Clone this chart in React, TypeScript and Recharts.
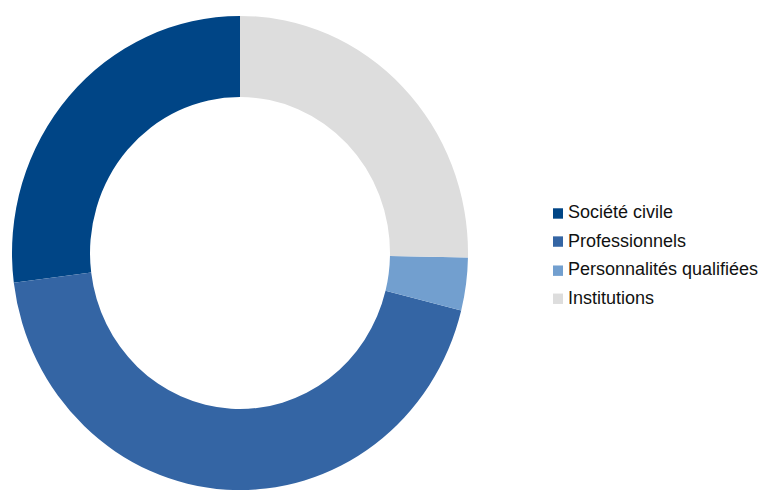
import { PieChart, Pie, Cell, Legend } from "recharts";

const categories = ["Société civile", "Professionnels", "Personnalités qualifiées", "Institutions"];
const shares = [27.0, 44.1, 3.6, 25.3];
const colors = ["#004586", "#3465a4", "#729fcf", "#dddddd"];

const data = categories.map((name, i) => ({ name, value: shares[i] }));

function LegendBox() {
    return (
        <ul style={{ listStyle: "none", margin: 0, padding: 0 }}>
            {categories.map((name, i) => (
                <li
                    key={name}
                    style={{
                        display: "flex",
                        alignItems: "center",
                        height: 27.5,
                        fontFamily: "'Liberation Sans', Arial, sans-serif",
                        fontSize: 18,
                        color: "#111",
                        whiteSpace: "nowrap",
                    }}
                >
                    <span
                        style={{
                            display: "inline-block",
                            width: 10,
                            height: 10,
                            background: colors[i],
                            marginRight: 5,
                            marginTop: 2,
                        }}
                    />
                    {name}
                </li>
            ))}
        </ul>
    );
}

export default function App() {
    return (
        <div style={{ position: "absolute", left: 0, top: 0, width: 760, height: 491, background: "#fff", overflow: "hidden" }}>
            <div style={{ transform: "scaleY(1.04)", transformOrigin: "240px 253px" }}>
                <PieChart width={760} height={491} margin={{ top: 0, right: 0, bottom: 0, left: 0 }}>
                    <Pie
                        data={data}
                        dataKey="value"
                        nameKey="name"
                        cx={240}
                        cy={253}
                        innerRadius={150}
                        outerRadius={228}
                        startAngle={90}
                        endAngle={450}
                        stroke="none"
                        isAnimationActive={false}
                    >
                        {data.map((entry, index) => (
                            <Cell key={`cell-${index}`} fill={colors[index]} />
                        ))}
                    </Pie>
                    <Legend
                        content={() => <LegendBox />}
                        wrapperStyle={{ left: 553, top: 200, width: 210, bottom: "auto", right: "auto" }}
                    />
                </PieChart>
            </div>
        </div>
    );
}
